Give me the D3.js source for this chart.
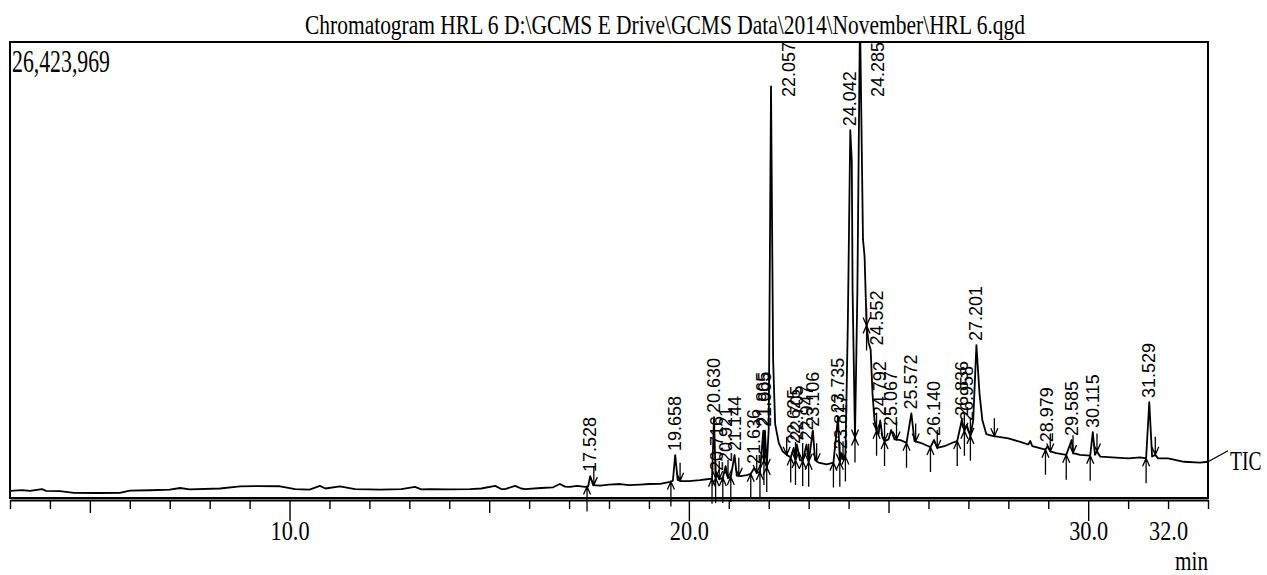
<!DOCTYPE html>
<html>
<head>
<meta charset="utf-8">
<script src="https://cdn.jsdelivr.net/npm/d3@7"></script>
<style>
  body { margin: 0; background: #fff; }
  svg { display: block; }
</style>
</head>
<body>
<div class="canvas"></div>
<script>
// retention time (min) and intensity (millions of counts)
const times = [
  3.00, 3.30, 3.50, 3.80, 3.90, 4.25, 4.60, 5.20, 5.75, 6.00, 6.50, 7.00, 7.26, 7.50,
  8.26, 8.76, 9.20, 9.76, 10.14, 10.50, 10.76, 10.90, 11.26, 11.64, 12.00, 12.27, 12.80,
  13.14, 13.30, 13.52, 14.00, 14.52, 14.80, 15.15, 15.30, 15.40, 15.65, 15.80, 15.90,
  16.30, 16.60, 16.77, 16.90, 17.02, 17.20, 17.40, 17.48, 17.528, 17.60, 17.78, 18.00,
  18.28, 18.50, 18.78, 19.00, 19.28, 19.53, 19.60, 19.658, 19.72, 19.80, 20.00, 20.28,
  20.50, 20.58, 20.630, 20.67, 20.716, 20.76, 20.85, 20.921, 20.98, 21.05, 21.144, 21.20,
  21.30, 21.45, 21.55, 21.636, 21.70, 21.78, 21.865, 21.88, 21.905, 21.95, 22.00, 22.057,
  22.11, 22.16, 22.25, 22.35, 22.45, 22.55, 22.625, 22.67, 22.705, 22.78, 22.85, 22.947,
  23.00, 23.106, 23.16, 23.25, 23.45, 23.62, 23.735, 23.78, 23.817, 23.86, 23.92, 23.98,
  24.042, 24.08, 24.10, 24.16, 24.22, 24.285, 24.36, 24.40, 24.45, 24.50, 24.552, 24.60, 24.65,
  24.70, 24.75, 24.792, 24.85, 24.90, 25.00, 25.067, 25.15, 25.30, 25.45, 25.572, 25.65,
  25.80, 26.00, 26.05, 26.140, 26.22, 26.40, 26.60, 26.72, 26.836, 26.90, 26.958, 27.05,
  27.12, 27.201, 27.28, 27.35, 27.45, 27.60, 27.80, 28.00, 28.30, 28.50, 28.55, 28.60,
  28.93, 28.979, 29.05, 29.20, 29.45, 29.585, 29.62, 29.80, 30.05, 30.115, 30.17, 30.22,
  30.30, 30.60, 31.00, 31.30, 31.45, 31.529, 31.60, 31.68, 31.75, 32.00, 32.40, 32.80, 33.00
];
const intensity = [
  0.41, 0.46, 0.41, 0.52, 0.41, 0.40, 0.30, 0.29, 0.30, 0.43, 0.45, 0.49, 0.58, 0.50,
  0.55, 0.67, 0.69, 0.68, 0.52, 0.48, 0.70, 0.55, 0.67, 0.52, 0.50, 0.49, 0.52,
  0.64, 0.50, 0.52, 0.50, 0.52, 0.55, 0.70, 0.52, 0.52, 0.70, 0.55, 0.52,
  0.58, 0.62, 0.81, 0.66, 0.64, 0.70, 0.64, 0.68, 1.27, 0.75, 0.72, 0.77,
  0.81, 0.75, 0.78, 0.81, 0.82, 0.93, 1.00, 2.49, 1.05, 0.98, 0.98, 1.04,
  1.10, 1.12, 4.69, 1.16, 1.33, 1.10, 1.16, 1.85, 1.16, 1.22, 2.49, 1.30,
  1.27, 1.33, 1.40, 1.74, 1.45, 1.51, 3.90, 2.20, 3.90, 1.80, 4.00, 23.85,
  8.00, 4.30, 3.20, 2.70, 2.50, 2.35, 2.90, 2.20, 3.10, 2.20, 2.15, 3.10,
  2.10, 3.90, 2.20, 2.05, 1.95, 2.05, 4.70, 2.10, 2.60, 2.25, 2.40, 10.00,
  21.31, 19.50, 12.00, 3.50, 12.00, 28.00, 15.00, 14.00, 10.00, 9.00, 8.60, 6.00, 4.50,
  3.90, 3.70, 4.50, 3.50, 3.30, 3.40, 3.94, 3.40, 3.35, 3.20, 4.90, 3.30,
  3.20, 3.00, 2.95, 3.36, 2.90, 3.00, 3.20, 3.30, 4.52, 3.90, 4.23, 3.60,
  4.50, 8.86, 6.00, 4.50, 3.70, 3.60, 3.53, 3.45, 3.25, 3.10, 3.30, 3.00,
  2.80, 3.00, 2.70, 2.60, 2.50, 3.36, 2.60, 2.50, 2.45, 3.82, 2.50, 2.70,
  2.40, 2.35, 2.30, 2.35, 2.30, 5.56, 2.40, 2.50, 2.30, 2.30, 2.10, 2.05, 2.10
];

// integrated peaks: apex, start and end retention times
const peakRT = [
  17.528, 19.658, 20.630, 20.716, 20.921, 21.144, 21.636, 21.865, 21.905, 22.057,
  22.625, 22.705, 22.947, 23.106, 23.735, 23.817, 24.042, 24.285, 24.552, 24.792,
  25.067, 25.572, 26.140, 26.836, 26.958, 27.201, 28.979, 29.585, 30.115, 31.529
];
const peakStart = [
  17.45, 19.55, 20.58, 20.67, 20.85, 21.05, 21.55, 21.78, 21.88, 21.95,
  22.55, 22.67, 22.85, 23.00, 23.62, 23.78, 23.92, 24.16, 24.45, 24.70,
  24.90, 25.45, 26.05, 26.72, 26.90, 27.05, 28.93, 29.45, 30.05, 31.45
];
const peakEnd = [
  17.62, 19.78, 20.67, 20.76, 20.98, 21.25, 21.70, 21.88, 21.95, 22.45,
  22.67, 22.85, 23.00, 23.20, 23.78, 23.86, 24.16, 24.45, 24.70, 24.90,
  25.20, 25.68, 26.22, 26.90, 27.05, 27.65, 29.05, 29.62, 30.22, 31.68
];

const xTicks = d3.range(3, 34);
const xLabels = [10, 20, 30, 32];
const maxCounts = "26,423,969";
const title = "Chromatogram HRL 6 D:\\GCMS E Drive\\GCMS Data\\2014\\November\\HRL 6.qgd";

const width = 1267;
const height = 575;
const marginTop = 42;
const marginRight = 59;
const marginBottom = 77;
const marginLeft = 10;

const x = d3.scaleLinear()
  .domain([3, 33])
  .range([marginLeft, width - marginRight]);

const y = d3.scaleLinear()
  .domain([0, 26.424])
  .range([height - marginBottom, marginTop]);

const trace = times.map((t, i) => ({ t: t, v: intensity[i] }));

function valueAt(t) {
  const i = d3.bisector(d => d.t).left(trace, t);
  if (i <= 0) return trace[0].v;
  if (i >= trace.length) return trace[trace.length - 1].v;
  const a = trace[i - 1], b = trace[i];
  return a.v + (b.v - a.v) * (t - a.t) / (b.t - a.t);
}

const svg = d3.select(".canvas").append("svg")
  .attr("width", width)
  .attr("height", height)
  .style("font-family", "'Liberation Serif', 'Times New Roman', serif");

svg.append("defs").append("clipPath")
  .attr("id", "plot")
  .append("rect")
    .attr("x", marginLeft)
    .attr("y", marginTop)
    .attr("width", width - marginLeft - marginRight)
    .attr("height", height - marginTop - marginBottom);

// title and full-scale value
svg.append("text")
  .attr("x", 305)
  .attr("y", 34)
  .attr("font-size", 27)
  .attr("textLength", 720)
  .attr("lengthAdjust", "spacingAndGlyphs")
  .text(title);

svg.append("text")
  .attr("x", 12)
  .attr("y", 72)
  .attr("font-size", 31)
  .attr("textLength", 98)
  .attr("lengthAdjust", "spacingAndGlyphs")
  .text(maxCounts);

// trace
const line = d3.line()
  .x(d => x(d.t))
  .y(d => y(d.v));

svg.append("path")
  .datum(trace)
  .attr("clip-path", "url(#plot)")
  .attr("fill", "none")
  .attr("stroke", "#000")
  .attr("stroke-width", 1.8)
  .attr("stroke-linejoin", "round")
  .attr("d", line);

// lead line to TIC label
const endV = trace[trace.length - 1].v;
svg.append("path")
  .attr("fill", "none")
  .attr("stroke", "#000")
  .attr("stroke-width", 1.4)
  .attr("d", "M" + x(33) + "," + y(endV) + " L" + (x(33) + 20) + "," + (y(endV) - 11));

svg.append("text")
  .attr("transform", "translate(" + (x(33) + 22) + ",470) scale(0.7,1)")
  .attr("font-size", 28)
  .text("TIC");

// peak start (up) and end (down) markers
const marks = svg.append("g")
  .attr("stroke", "#000")
  .attr("stroke-width", 1.3)
  .attr("fill", "none");

peakStart.forEach(t => {
  const px = x(t), py = y(valueAt(t));
  marks.append("path")
    .attr("d", "M" + px + "," + (py + 25) + " L" + px + "," + py +
      " M" + (px - 3.5) + "," + (py + 8) + " L" + px + "," + py + " L" + (px + 3.5) + "," + (py + 8));
});

peakEnd.forEach(t => {
  const px = x(t), py = y(valueAt(t));
  marks.append("path")
    .attr("d", "M" + px + "," + (py - 18) + " L" + px + "," + py +
      " M" + (px - 3.5) + "," + (py - 8) + " L" + px + "," + py + " L" + (px + 3.5) + "," + (py - 8));
});

// push a label right while the tail of a big earlier peak runs through it
function labelX(rt, py) {
  let ax = x(rt) + 6;
  for (let k = 0; k < 30; k++) {
    const hit = trace.some(d => d.v > 8 && d.t < rt &&
      x(d.t) > ax - 14 && x(d.t) < ax + 2 && y(d.v) < py);
    if (!hit) break;
    ax += 1;
  }
  return ax;
}

// peak labels, rotated
svg.append("g")
  .selectAll("text")
  .data(peakRT)
  .join("text")
    .attr("font-family", "'Liberation Sans', Arial, sans-serif")
    .attr("font-size", 18)
    .attr("transform", d => {
      const py = y(valueAt(d));
      if (py < 100) return "translate(" + (x(d) + 24) + ",97) rotate(-90)";
      return "translate(" + labelX(d, py) + "," + (py - 4) + ") rotate(-90)";
    })
    .text(d => d.toFixed(3));

// frame
svg.append("rect")
  .attr("x", marginLeft)
  .attr("y", marginTop)
  .attr("width", width - marginLeft - marginRight)
  .attr("height", height - marginTop - marginBottom)
  .attr("fill", "none")
  .attr("stroke", "#000")
  .attr("stroke-width", 2);

// x axis
const xAxis = d3.axisBottom(x)
  .tickValues(xTicks)
  .tickSizeOuter(0)
  .tickFormat(d => xLabels.includes(d) ? d.toFixed(1) : "");

const gx = svg.append("g")
  .attr("transform", "translate(0," + (height - marginBottom + 2) + ")")
  .call(xAxis);

gx.select(".domain").attr("stroke-width", 2);
gx.selectAll(".tick line")
  .attr("stroke-width", 1.4)
  .attr("y2", d => d % 10 === 0 ? 21 : d % 5 === 0 ? 13 : 9);
gx.selectAll(".tick text")
  .attr("font-family", "'Liberation Serif', 'Times New Roman', serif")
  .attr("font-size", 28)
  .attr("fill", "#000")
  .attr("y", 20)
  .attr("dy", "0.71em")
  .attr("textLength", d => xLabels.includes(d) ? 39 : null)
  .attr("lengthAdjust", "spacingAndGlyphs");

svg.append("text")
  .attr("x", 1175)
  .attr("y", 570)
  .attr("font-size", 28)
  .attr("textLength", 33)
  .attr("lengthAdjust", "spacingAndGlyphs")
  .text("min");
</script>
</body>
</html>
